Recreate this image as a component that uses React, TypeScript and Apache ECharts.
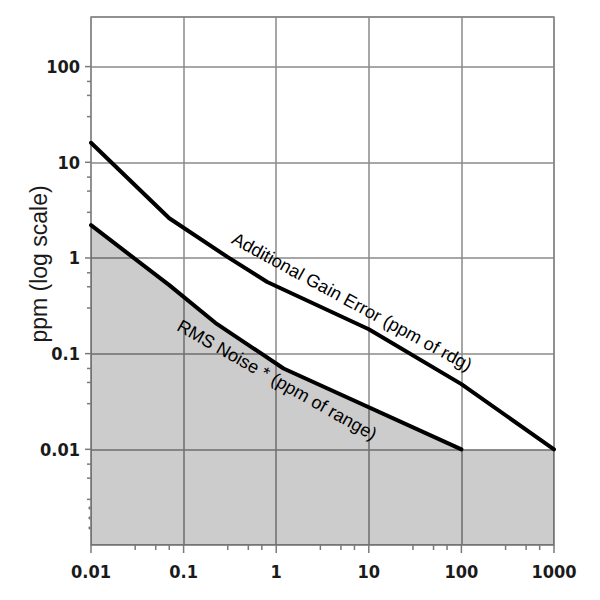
import React, { useEffect, useRef } from "react";
import * as echarts from "echarts";

// ---- data ----
const xTickValues = [0.01, 0.1, 1, 10, 100, 1000];
const xMinorTicks = [0.03, 0.05, 0.07, 0.3, 0.5, 0.7, 3, 5, 7, 30, 50, 70, 300, 500, 700];
const yTickValues = [0.01, 0.1, 1, 10, 100];
const yMinorTicks = [0.003, 0.005, 0.007, 0.03, 0.05, 0.07, 0.3, 0.5, 0.7, 3, 5, 7, 30, 50, 70];

const gainX = [0.01, 0.07, 0.3, 0.8, 10, 100, 1000];
const gainY = [16, 2.6, 1.02, 0.56, 0.18, 0.048, 0.01];

const noiseX = [0.01, 0.07, 0.22, 1.2, 100];
const noiseY = [2.2, 0.52, 0.21, 0.07, 0.01];

const floorX = [1000];
const floorY = [0.01];

const gainLabel = "Additional Gain Error (ppm of rdg)";
const noiseLabel = "RMS Noise * (ppm of range)";
const yTitle = "ppm (log scale)";

const X_MIN = 0.01;
const X_MAX = 1000;
const Y_MIN = 0.001;
const Y_MAX = 330;

const NARROW =
  "'Liberation Sans Narrow', 'Arial Narrow', 'DejaVu Sans Condensed', 'Liberation Sans', Arial, sans-serif";
const SANS = "'Liberation Sans', Arial, Helvetica, sans-serif";

const zip = (xs: number[], ys: number[]) => xs.map((x, i) => [x, ys[i]]);

const isPow10 = (v: number) => {
  const e = Math.log10(v);
  return Math.abs(e - Math.round(e)) < 1e-6;
};

export default function App() {
  const ref = useRef<HTMLDivElement>(null);

  useEffect(() => {
    if (!ref.current) return;
    const chart = echarts.init(ref.current, null, { renderer: "svg" });

    const gridColor = "#8a8a8a";
    const tickColor = "#7a7a7a";

    // tick marks: [x, y, length, direction(0 = left, 1 = down)]
    const tickData: number[][] = [];
    yTickValues.forEach((v) => tickData.push([X_MIN, v, 6, 0]));
    yMinorTicks.forEach((v) => tickData.push([X_MIN, v, 4, 0]));
    xTickValues.forEach((v) => tickData.push([v, Y_MIN, 8, 1]));
    xMinorTicks.forEach((v) => tickData.push([v, Y_MIN, 5, 1]));

    const option: any = {
      animation: false,
      backgroundColor: "#ffffff",
      grid: {
        left: 91,
        right: 46,
        top: 17,
        bottom: 55,
        show: true,
        borderColor: gridColor,
        borderWidth: 1.5,
        backgroundColor: "transparent",
      },
      xAxis: {
        type: "log",
        logBase: 10,
        min: X_MIN,
        max: X_MAX,
        axisLine: { show: false },
        axisTick: { show: false },
        splitLine: { show: true, lineStyle: { color: gridColor, width: 1.5 } },
        axisLabel: {
          margin: 17,
          fontSize: 18,
          fontWeight: "bold",
          fontFamily: NARROW,
          color: "#1a1a1a",
          formatter: (v: number) => (isPow10(v) ? String(v) : ""),
        },
      },
      yAxis: {
        type: "log",
        logBase: 10,
        min: Y_MIN,
        max: Y_MAX,
        axisLine: { show: false },
        axisTick: { show: false },
        splitLine: { show: true, lineStyle: { color: gridColor, width: 1.5 } },
        axisLabel: {
          margin: 11,
          fontSize: 18,
          fontWeight: "bold",
          fontFamily: NARROW,
          color: "#1a1a1a",
          showMinLabel: false,
          showMaxLabel: false,
          formatter: (v: number) =>
            isPow10(v) && v > 0.005 && v < 200 ? String(v) : "",
        },
      },
      graphic: [
        {
          type: "text",
          x: 39,
          y: 264,
          rotation: Math.PI / 2,
          style: {
            text: yTitle,
            fontSize: 23,
            fontFamily: SANS,
            fill: "#1a1a1a",
            align: "center",
            verticalAlign: "middle",
          },
        },
        {
          type: "text",
          x: 352,
          y: 302,
          rotation: (-28.5 * Math.PI) / 180,
          z: 100,
          style: {
            text: gainLabel,
            fontSize: 18,
            fontFamily: SANS,
            fill: "#000",
            align: "center",
            verticalAlign: "middle",
          },
        },
        {
          type: "text",
          x: 277,
          y: 380,
          rotation: (-29.5 * Math.PI) / 180,
          z: 100,
          style: {
            text: noiseLabel,
            fontSize: 18,
            fontFamily: SANS,
            fill: "#000",
            align: "center",
            verticalAlign: "middle",
          },
        },
        { type: "circle", shape: { cx: 90, cy: 508, r: 1.6 }, style: { fill: "#777" } },
        { type: "circle", shape: { cx: 90, cy: 518, r: 1.6 }, style: { fill: "#777" } },
        { type: "circle", shape: { cx: 90, cy: 528, r: 1.6 }, style: { fill: "#777" } },
      ],
      series: [
        {
          name: "floor",
          type: "line",
          data: [...zip(noiseX, noiseY), ...zip(floorX, floorY)],
          showSymbol: false,
          silent: true,
          lineStyle: { width: 0, opacity: 0 },
          areaStyle: { color: "rgba(0,0,0,0.2)", origin: "start", opacity: 1 },
          z: 1,
        },
        {
          name: "RMS Noise",
          type: "line",
          data: zip(noiseX, noiseY),
          showSymbol: false,
          silent: true,
          lineStyle: { color: "#000", width: 4, cap: "round", join: "round" },
          z: 3,
        },
        {
          name: "Additional Gain Error",
          type: "line",
          data: zip(gainX, gainY),
          showSymbol: false,
          silent: true,
          lineStyle: { color: "#000", width: 4, cap: "round", join: "round" },
          z: 3,
        },
        {
          name: "ticks",
          type: "custom",
          silent: true,
          clip: false,
          data: tickData,
          encode: { x: 0, y: 1 },
          renderItem: (params: any, api: any) => {
            const pt = api.coord([api.value(0), api.value(1)]);
            const len = api.value(2);
            const dir = api.value(3);
            const shape =
              dir === 0
                ? { x1: pt[0] - len, y1: pt[1], x2: pt[0], y2: pt[1] }
                : { x1: pt[0], y1: pt[1], x2: pt[0], y2: pt[1] + len };
            return {
              type: "line",
              shape,
              style: { stroke: tickColor, lineWidth: 1.5 },
            };
          },
          z: 4,
        },
      ],
    };

    chart.setOption(option);
    return () => chart.dispose();
  }, []);

  return (
    <div
      ref={ref}
      style={{ position: "fixed", left: 0, top: 0, width: 600, height: 600, background: "#fff" }}
    />
  );
}
